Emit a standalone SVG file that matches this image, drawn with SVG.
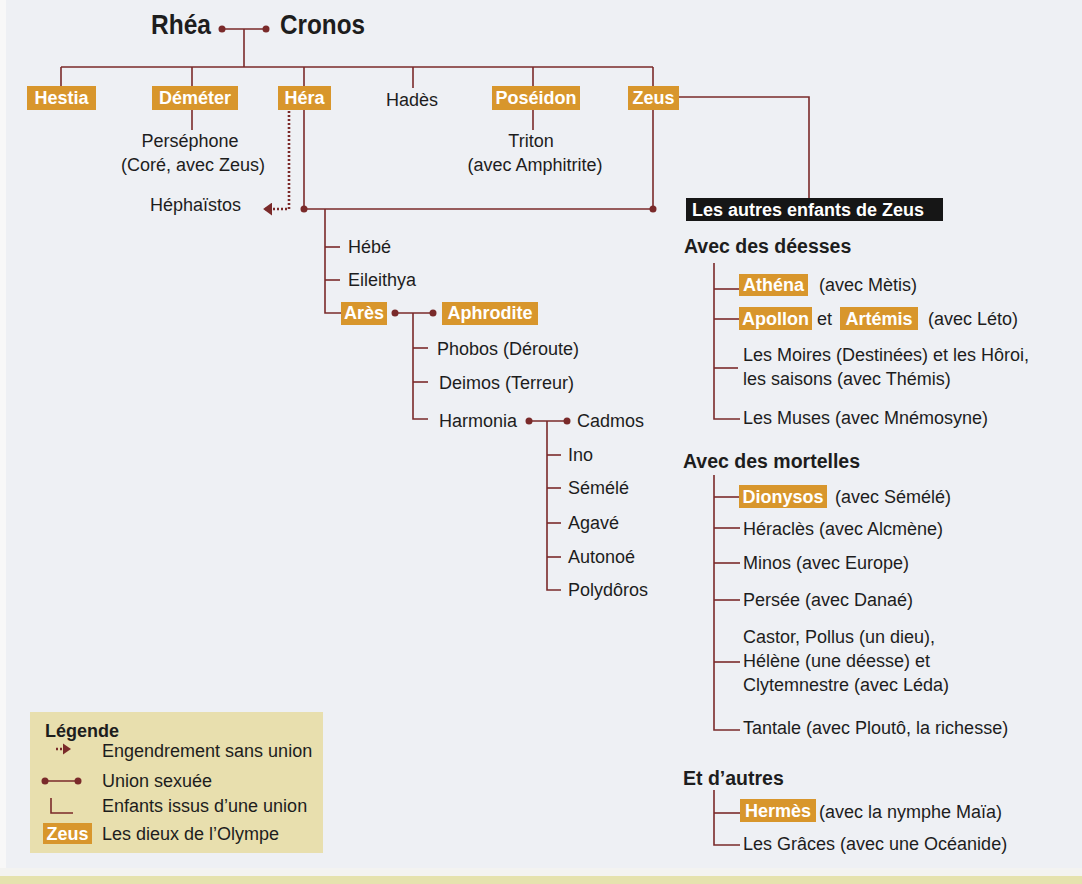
<svg xmlns="http://www.w3.org/2000/svg" width="1082" height="884" viewBox="0 0 1082 884">
<style>
.t{font-family:"Liberation Sans",Arial,sans-serif;font-size:18px;fill:#1d1d1d}
.b{font-family:"Liberation Sans",Arial,sans-serif;font-weight:bold;fill:#1d1d1d}
.w{font-family:"Liberation Sans",Arial,sans-serif;font-weight:bold;font-size:18px;fill:#ffffff}
.ln{stroke:#7a2a2a;stroke-width:1.6;fill:none}
.dl{stroke:#7a2a2a;stroke-width:2.6;fill:none;stroke-dasharray:2 2}
.box{fill:#d8962c}
.dot{fill:#7a2a2a}
</style>
<defs>
<marker id="arr" viewBox="0 0 10 10" refX="9" refY="5" markerWidth="9" markerHeight="13" markerUnits="userSpaceOnUse" orient="auto" preserveAspectRatio="none">
<path d="M0,0 L10,5 L0,10 z" fill="#7a2a2a"/>
</marker>
</defs>
<rect x="0" y="0" width="1082" height="884" fill="#eef0f4"/>
<rect x="0" y="0" width="6" height="884" fill="#f8f8f8"/>
<rect x="0" y="868" width="1082" height="8" fill="#f3f3f1"/>
<rect x="0" y="876" width="1082" height="8" fill="#e5e2ae"/>
<g id="connectors">
<line class="ln" x1="222" y1="29" x2="266" y2="29"/>
<circle class="dot" cx="222" cy="29" r="3.5"/>
<circle class="dot" cx="266" cy="29" r="3.5"/>
<polyline class="ln" points="244,29 244,67"/>
<line class="ln" x1="61" y1="67" x2="653" y2="67"/>
<line class="ln" x1="61" y1="67" x2="61" y2="87"/>
<line class="ln" x1="192" y1="67" x2="192" y2="87"/>
<line class="ln" x1="304" y1="67" x2="304" y2="87"/>
<line class="ln" x1="413" y1="67" x2="413" y2="88"/>
<line class="ln" x1="533" y1="67" x2="533" y2="87"/>
<line class="ln" x1="653" y1="67" x2="653" y2="209"/>
<line class="ln" x1="192" y1="110" x2="192" y2="130"/>
<line class="ln" x1="533" y1="110" x2="533" y2="130"/>
<line class="ln" x1="304" y1="110" x2="304" y2="209"/>
<line class="ln" x1="304" y1="209" x2="653" y2="209"/>
<circle class="dot" cx="304" cy="209" r="3.5"/>
<circle class="dot" cx="653" cy="209" r="3.5"/>
<polyline class="dl" points="289,111 289,209 264,209" marker-end="url(#arr)"/>
<polyline class="ln" points="679,97 809,97 809,198"/>
<polyline class="ln" points="325,209 325,313 341,313"/>
<line class="ln" x1="325" y1="247" x2="340" y2="247"/>
<line class="ln" x1="325" y1="280" x2="340" y2="280"/>
<line class="ln" x1="395" y1="313" x2="433" y2="313"/>
<circle class="dot" cx="395" cy="313" r="3.5"/>
<circle class="dot" cx="433" cy="313" r="3.5"/>
<polyline class="ln" points="413,313 413,419 428,419"/>
<line class="ln" x1="413" y1="348" x2="428" y2="348"/>
<line class="ln" x1="413" y1="382" x2="428" y2="382"/>
<line class="ln" x1="529" y1="421" x2="567" y2="421"/>
<circle class="dot" cx="529" cy="421" r="3.5"/>
<circle class="dot" cx="567" cy="421" r="3.5"/>
<polyline class="ln" points="547,421 547,590 561,590"/>
<line class="ln" x1="547" y1="455" x2="561" y2="455"/>
<line class="ln" x1="547" y1="488" x2="561" y2="488"/>
<line class="ln" x1="547" y1="523" x2="561" y2="523"/>
<line class="ln" x1="547" y1="557" x2="561" y2="557"/>
<polyline class="ln" points="714,263 714,419 740,419"/>
<line class="ln" x1="714" y1="289" x2="740" y2="289"/>
<line class="ln" x1="714" y1="319" x2="740" y2="319"/>
<line class="ln" x1="714" y1="368" x2="738" y2="368"/>
<polyline class="ln" points="714,475 714,730 740,730"/>
<line class="ln" x1="714" y1="497" x2="740" y2="497"/>
<line class="ln" x1="714" y1="528" x2="740" y2="528"/>
<line class="ln" x1="714" y1="563" x2="740" y2="563"/>
<line class="ln" x1="714" y1="600" x2="740" y2="600"/>
<line class="ln" x1="714" y1="662" x2="740" y2="662"/>
<polyline class="ln" points="714,790 714,845 740,845"/>
<line class="ln" x1="714" y1="813" x2="740" y2="813"/>
</g>
<g id="rhea"><text class="b" x="151" y="34" font-size="28" textLength="60" lengthAdjust="spacingAndGlyphs">Rhéa</text></g>
<g id="cronos"><text class="b" x="280" y="34" font-size="28" textLength="85" lengthAdjust="spacingAndGlyphs">Cronos</text></g>
<g id="hestia"><rect class="box" x="27" y="86" width="69" height="24"/><text class="w" x="61.5" y="104" text-anchor="middle">Hestia</text></g>
<g id="demeter"><rect class="box" x="152" y="86" width="86" height="24"/><text class="w" x="195" y="104" text-anchor="middle">Déméter</text></g>
<g id="hera"><rect class="box" x="278" y="86" width="53" height="24"/><text class="w" x="304.5" y="104" text-anchor="middle">Héra</text></g>
<g id="hades"><text class="t" x="386" y="106">Hadès</text></g>
<g id="poseidon"><rect class="box" x="492" y="86" width="88" height="24"/><text class="w" x="536" y="104" text-anchor="middle">Poséidon</text></g>
<g id="zeus"><rect class="box" x="628" y="86" width="51" height="24"/><text class="w" x="653.5" y="104" text-anchor="middle">Zeus</text></g>
<g id="persephone"><text class="t" x="190" y="147" text-anchor="middle">Perséphone</text><text class="t" x="193" y="171" text-anchor="middle">(Coré, avec Zeus)</text></g>
<g id="triton"><text class="t" x="531" y="147" text-anchor="middle">Triton</text><text class="t" x="535" y="171" text-anchor="middle">(avec Amphitrite)</text></g>
<g id="hephaistos"><text class="t" x="150" y="211">Héphaïstos</text></g>
<g id="hebe"><text class="t" x="348" y="253">Hébé</text></g>
<g id="eileithya"><text class="t" x="348" y="286">Eileithya</text></g>
<g id="ares"><rect class="box" x="341" y="302" width="46" height="23"/><text class="w" x="364" y="319" text-anchor="middle">Arès</text></g>
<g id="aphrodite"><rect class="box" x="442" y="302" width="96" height="23"/><text class="w" x="490" y="319" text-anchor="middle">Aphrodite</text></g>
<g id="phobos"><text class="t" x="437" y="355">Phobos (Déroute)</text></g>
<g id="deimos"><text class="t" x="439" y="389">Deimos (Terreur)</text></g>
<g id="harmonia"><text class="t" x="439" y="427">Harmonia</text></g>
<g id="cadmos"><text class="t" x="577" y="427">Cadmos</text></g>
<g id="ino"><text class="t" x="568" y="461">Ino</text></g>
<g id="semele"><text class="t" x="568" y="494">Sémélé</text></g>
<g id="agave"><text class="t" x="568" y="529">Agavé</text></g>
<g id="autonoe"><text class="t" x="568" y="563">Autonoé</text></g>
<g id="polydoros"><text class="t" x="568" y="596">Polydôros</text></g>
<g id="autres-enfants"><rect x="686" y="198" width="257" height="23" fill="#161616"/><text class="w" x="692" y="216" font-size="19">Les autres enfants de Zeus</text></g>
<g id="deesses"><text class="b" x="684" y="253" font-size="19.5">Avec des déesses</text></g>
<g id="athena"><rect class="box" x="739" y="274" width="69" height="22"/><text class="w" x="773.5" y="291" text-anchor="middle">Athéna</text><text class="t" x="819" y="291">(avec Mètis)</text></g>
<g id="apollon-artemis"><rect class="box" x="739" y="307" width="73" height="23"/><text class="w" x="775.5" y="325" text-anchor="middle">Apollon</text><text class="t" x="817" y="325">et</text><rect class="box" x="840" y="307" width="78" height="23"/><text class="w" x="879" y="325" text-anchor="middle">Artémis</text><text class="t" x="928" y="325">(avec Léto)</text></g>
<g id="moires"><text class="t" x="743" y="361">Les Moires (Destinées) et les Hôroi,</text><text class="t" x="743" y="385">les saisons (avec Thémis)</text></g>
<g id="muses"><text class="t" x="743" y="424">Les Muses (avec Mnémosyne)</text></g>
<g id="mortelles"><text class="b" x="683" y="468" font-size="19.5">Avec des mortelles</text></g>
<g id="dionysos"><rect class="box" x="739" y="485" width="88" height="23"/><text class="w" x="783" y="503" text-anchor="middle">Dionysos</text><text class="t" x="835" y="503">(avec Sémélé)</text></g>
<g id="heracles"><text class="t" x="743" y="535">Héraclès (avec Alcmène)</text></g>
<g id="minos"><text class="t" x="743" y="569">Minos (avec Europe)</text></g>
<g id="persee"><text class="t" x="743" y="606">Persée (avec Danaé)</text></g>
<g id="castor"><text class="t" x="743" y="643">Castor, Pollus (un dieu),</text><text class="t" x="743" y="667">Hélène (une déesse) et</text><text class="t" x="743" y="691">Clytemnestre (avec Léda)</text></g>
<g id="tantale"><text class="t" x="743" y="734">Tantale (avec Ploutô, la richesse)</text></g>
<g id="autres"><text class="b" x="683" y="785" font-size="19.5">Et d’autres</text></g>
<g id="hermes"><rect class="box" x="740" y="799" width="76" height="23"/><text class="w" x="778" y="817" text-anchor="middle">Hermès</text><text class="t" x="819" y="818">(avec la nymphe Maïa)</text></g>
<g id="graces"><text class="t" x="743" y="850">Les Grâces (avec une Océanide)</text></g>
<g id="legende">
<rect x="30" y="712" width="293" height="141" fill="#e8dfae"/>
<text class="b" x="45" y="737" font-size="18">Légende</text>
<line class="dl" x1="56" y1="749" x2="63" y2="749" stroke-width="2"/>
<path d="M63,743.5 L71,749 L63,754.5 z" fill="#7a2a2a"/>
<text class="t" x="102" y="757">Engendrement sans union</text>
<line class="ln" x1="45" y1="781" x2="78" y2="781"/>
<circle class="dot" cx="45" cy="781" r="3.5"/>
<circle class="dot" cx="78" cy="781" r="3.5"/>
<text class="t" x="102" y="787">Union sexuée</text>
<polyline class="ln" points="51,798 51,813 73,813"/>
<text class="t" x="102" y="812">Enfants issus d’une union</text>
<rect class="box" x="43" y="823" width="49" height="21"/>
<text class="w" x="67.5" y="840" text-anchor="middle">Zeus</text>
<text class="t" x="102" y="840">Les dieux de l’Olympe</text>
</g>
</svg>
